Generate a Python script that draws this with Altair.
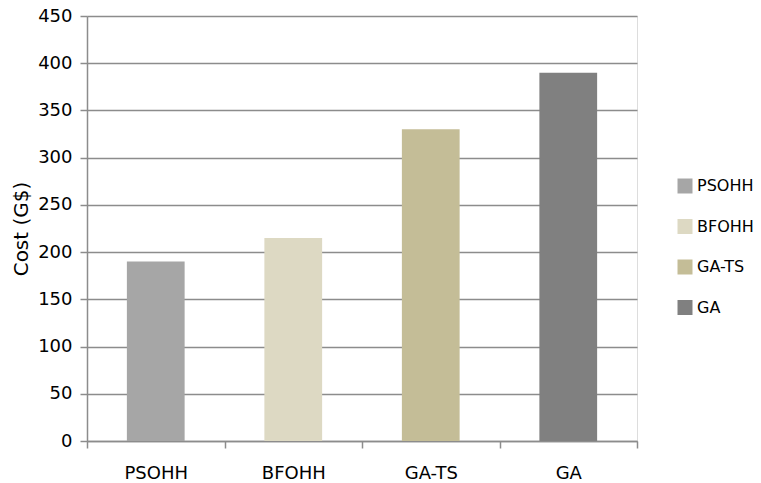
import altair as alt
import pandas as pd

methods = ["PSOHH", "BFOHH", "GA-TS", "GA"]
costs = [190, 215, 330, 390]
colors = ["#a6a6a6", "#ddd9c3", "#c4bd97", "#808080"]

df = pd.DataFrame({"method": methods, "cost": costs})

FONT = "DejaVu Sans"
GRAY = "#8c8c8c"

chart = (
    alt.Chart(df)
    .mark_bar(width={"band": 0.42})
    .encode(
        x=alt.X(
            "method:N",
            sort=methods,
            title=None,
            scale=alt.Scale(paddingInner=0, paddingOuter=0),
            axis=alt.Axis(
                labelAngle=0,
                tickBand="extent",
                tickSize=7,
                tickColor=GRAY,
                tickWidth=1.5,
                domainColor=GRAY,
                domainWidth=1.5,
                labelPadding=16,
                labelFontSize=18,
                labelFont=FONT,
                labelColor="#000000",
                grid=False,
            ),
        ),
        y=alt.Y(
            "cost:Q",
            title="Cost (G$)",
            scale=alt.Scale(domain=[0, 450], nice=False),
            axis=alt.Axis(
                values=list(range(0, 451, 50)),
                tickSize=7,
                tickColor=GRAY,
                tickWidth=1.5,
                domainColor=GRAY,
                domainWidth=1.5,
                gridColor=GRAY,
                gridWidth=1.5,
                labelPadding=8,
                labelFontSize=18,
                labelFont=FONT,
                labelColor="#000000",
                titleFont=FONT,
                titleFontSize=20,
                titleFontWeight="normal",
                titleColor="#000000",
                titlePadding=6,
            ),
        ),
        color=alt.Color(
            "method:N",
            sort=methods,
            scale=alt.Scale(domain=methods, range=colors),
            legend=alt.Legend(
                title=None,
                orient="none",
                legendX=590,
                legendY=162,
                symbolType="square",
                symbolSize=225,
                symbolStrokeWidth=0,
                labelFont=FONT,
                labelFontSize=16,
                labelColor="#000000",
                rowPadding=24.5,
                labelOffset=4,
            ),
        ),
    )
    .properties(
        width=550,
        height=425,
        padding={"left": 87, "top": 16, "right": 124, "bottom": 42},
        autosize=alt.AutoSizeParams(type="none"),
    )
    .configure_view(stroke=None)
    .configure(background="#ffffff")
)

chart.save("out.html", embed_options={"renderer": "svg", "actions": False})
